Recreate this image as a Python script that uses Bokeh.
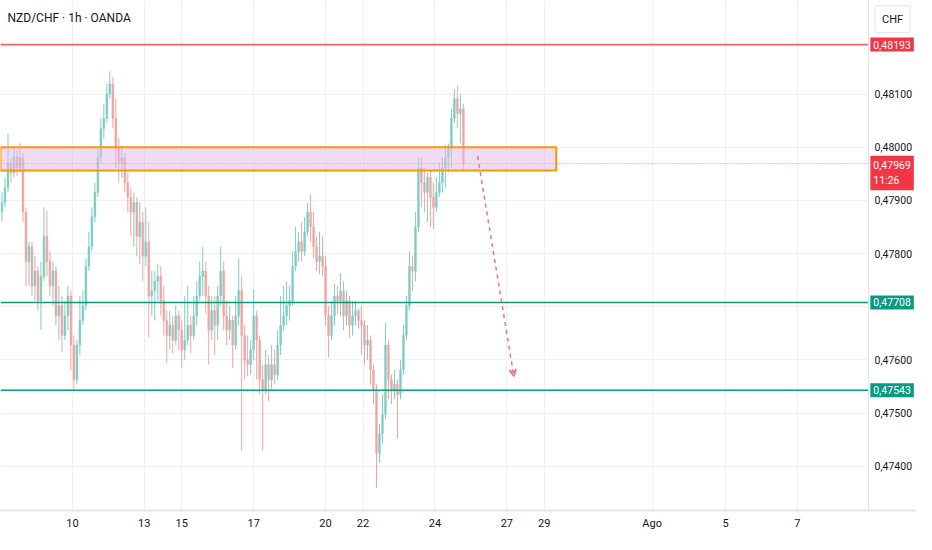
from bokeh.plotting import figure
from bokeh.models import (Range1d, FixedTicker, CustomJSTickFormatter, Label,
                          BoxAnnotation, ColumnDataSource, Arrow, VeeHead)
from bokeh.embed import file_html
from bokeh.resources import INLINE

# ---- data (2h candles) ----
first_open = 0.47878
closes = [0.47896, 0.47924, 0.47970, 0.47952, 0.47983, 0.47961, 0.47980, 0.47878, 0.47785, 0.47813,
          0.47739, 0.47767, 0.47711, 0.47757, 0.47832, 0.47785, 0.47739, 0.47767, 0.47683, 0.47702,
          0.47646, 0.47683, 0.47720, 0.47628, 0.47563, 0.47628, 0.47674, 0.47702, 0.47776, 0.47813,
          0.47869, 0.47915, 0.47980, 0.48035, 0.48054, 0.48100, 0.48119, 0.48054, 0.47998, 0.47970,
          0.47980, 0.47933, 0.47906, 0.47878, 0.47896, 0.47832, 0.47859, 0.47795, 0.47822, 0.47720,
          0.47730, 0.47748, 0.47757, 0.47711, 0.47674, 0.47646, 0.47665, 0.47637, 0.47683, 0.47656,
          0.47619, 0.47637, 0.47665, 0.47646, 0.47683, 0.47720, 0.47757, 0.47767, 0.47720, 0.47656,
          0.47693, 0.47665, 0.47720, 0.47767, 0.47683, 0.47656, 0.47674, 0.47628, 0.47683, 0.47730,
          0.47646, 0.47600, 0.47591, 0.47619, 0.47683, 0.47637, 0.47563, 0.47544, 0.47591, 0.47563,
          0.47591, 0.47572, 0.47628, 0.47665, 0.47683, 0.47702, 0.47711, 0.47776, 0.47804, 0.47822,
          0.47804, 0.47841, 0.47878, 0.47850, 0.47813, 0.47785, 0.47795, 0.47776, 0.47683, 0.47646,
          0.47683, 0.47720, 0.47711, 0.47730, 0.47683, 0.47711, 0.47665, 0.47683, 0.47693, 0.47674,
          0.47665, 0.47628, 0.47637, 0.47581, 0.47544, 0.47424, 0.47461, 0.47498, 0.47628, 0.47563,
          0.47544, 0.47554, 0.47535, 0.47581, 0.47646, 0.47702, 0.47776, 0.47767, 0.47850, 0.47961,
          0.47933, 0.47915, 0.47943, 0.47906, 0.47887, 0.47915, 0.47933, 0.47961, 0.47980, 0.47998,
          0.48054, 0.48091, 0.48063, 0.48072, 0.47969]
highs = [0.47915, 0.47943, 0.48026, 0.47980, 0.47998, 0.47995, 0.48007, 0.47989, 0.47887, 0.47822,
         0.47822, 0.47795, 0.47776, 0.47785, 0.47887, 0.47881, 0.47804, 0.47785, 0.47776, 0.47739,
         0.47720, 0.47711, 0.47739, 0.47730, 0.47646, 0.47637, 0.47720, 0.47730, 0.47791, 0.47841,
         0.47887, 0.47933, 0.47998, 0.48054, 0.48082, 0.48119, 0.48143, 0.48132, 0.48091, 0.48017,
         0.47998, 0.47989, 0.47952, 0.47924, 0.47915, 0.47906, 0.47896, 0.47878, 0.47887, 0.47859,
         0.47767, 0.47767, 0.47780, 0.47776, 0.47739, 0.47693, 0.47693, 0.47683, 0.47702, 0.47693,
         0.47674, 0.47720, 0.47739, 0.47683, 0.47720, 0.47748, 0.47785, 0.47813, 0.47785, 0.47739,
         0.47720, 0.47720, 0.47739, 0.47813, 0.47785, 0.47711, 0.47702, 0.47683, 0.47720, 0.47791,
         0.47757, 0.47665, 0.47646, 0.47637, 0.47733, 0.47693, 0.47646, 0.47591, 0.47619, 0.47609,
         0.47628, 0.47619, 0.47656, 0.47720, 0.47739, 0.47748, 0.47739, 0.47804, 0.47850, 0.47841,
         0.47859, 0.47869, 0.47896, 0.47911, 0.47878, 0.47832, 0.47841, 0.47832, 0.47795, 0.47702,
         0.47711, 0.47743, 0.47739, 0.47763, 0.47748, 0.47730, 0.47720, 0.47711, 0.47711, 0.47696,
         0.47702, 0.47674, 0.47665, 0.47646, 0.47591, 0.47554, 0.47480, 0.47535, 0.47669, 0.47637,
         0.47572, 0.47581, 0.47563, 0.47600, 0.47665, 0.47720, 0.47804, 0.47795, 0.47878, 0.47980,
         0.47980, 0.47961, 0.47952, 0.47957, 0.47933, 0.47943, 0.47970, 0.47980, 0.48004, 0.48007,
         0.48072, 0.48109, 0.48115, 0.48100, 0.48082]
lows = [0.47859, 0.47887, 0.47915, 0.47933, 0.47943, 0.47946, 0.47952, 0.47859, 0.47739, 0.47739,
        0.47720, 0.47711, 0.47693, 0.47656, 0.47748, 0.47757, 0.47720, 0.47702, 0.47665, 0.47637,
        0.47615, 0.47637, 0.47656, 0.47581, 0.47539, 0.47554, 0.47609, 0.47665, 0.47693, 0.47767,
        0.47804, 0.47859, 0.47906, 0.47970, 0.48017, 0.48045, 0.48091, 0.48035, 0.47961, 0.47933,
        0.47943, 0.47915, 0.47878, 0.47832, 0.47813, 0.47795, 0.47780, 0.47748, 0.47776, 0.47643,
        0.47683, 0.47674, 0.47711, 0.47683, 0.47646, 0.47594, 0.47619, 0.47613, 0.47628, 0.47619,
        0.47585, 0.47600, 0.47628, 0.47613, 0.47637, 0.47665, 0.47711, 0.47720, 0.47687, 0.47591,
        0.47637, 0.47609, 0.47637, 0.47702, 0.47656, 0.47628, 0.47637, 0.47585, 0.47619, 0.47665,
        0.47430, 0.47563, 0.47569, 0.47572, 0.47600, 0.47563, 0.47535, 0.47430, 0.47535, 0.47522,
        0.47544, 0.47554, 0.47563, 0.47609, 0.47656, 0.47665, 0.47674, 0.47702, 0.47767, 0.47785,
        0.47785, 0.47795, 0.47832, 0.47822, 0.47791, 0.47767, 0.47761, 0.47757, 0.47665, 0.47604,
        0.47637, 0.47665, 0.47687, 0.47683, 0.47656, 0.47665, 0.47641, 0.47646, 0.47665, 0.47659,
        0.47609, 0.47591, 0.47600, 0.47554, 0.47517, 0.47359, 0.47406, 0.47443, 0.47489, 0.47526,
        0.47517, 0.47526, 0.47452, 0.47526, 0.47572, 0.47637, 0.47693, 0.47730, 0.47748, 0.47841,
        0.47887, 0.47878, 0.47859, 0.47850, 0.47846, 0.47878, 0.47906, 0.47915, 0.47924, 0.47952,
        0.47961, 0.48045, 0.48035, 0.48007, 0.47956]

bar_hours = 2                      # each candle covers 2 trading hours
day_ticks = [48, 96, 121, 169, 217, 242, 290, 338, 363, 435, 484, 532, 580]
day_labels = ["10", "13", "15", "17", "20", "22", "24", "27", "29", "Ago", "5", "7", "10"]
price_ticks = [0.474, 0.475, 0.476, 0.477, 0.478, 0.479, 0.480, 0.481]
price_labels_hidden = [0.477]      # label hidden behind the 0,47708 tag in the reference

resistance = 0.48193
support_levels = [0.47708, 0.47543]
last_price = 0.47969
countdown = "11:26"
zone_top, zone_bottom, zone_end = 0.48000, 0.47956, 371
arrow_x = [318.5, 342.7]
arrow_y = [0.47983, 0.47569]
title = "NZD/CHF · 1h · OANDA"
currency = "CHF"

# ---- derived candle table ----
opens = [first_open] + closes[:-1]
xs = [bar_hours * k + bar_hours / 2 for k in range(len(closes))]
up = dict(x=[], top=[], bottom=[], hi=[], lo=[])
dn = dict(x=[], top=[], bottom=[], hi=[], lo=[])
for x, o, h, l, c in zip(xs, opens, highs, lows, closes):
    d = up if c >= o else dn
    d["x"].append(x); d["top"].append(max(o, c)); d["bottom"].append(min(o, c))
    d["hi"].append(h); d["lo"].append(l)

FONT = "Roboto, sans-serif"
UP, DN = "#7fcdc1", "#f2a3a3"
X_END = 579.5          # last hour slot of the chart area (price scale starts here)
X_FULL = 611.5         # right edge of the price-scale strip
Y0, Y1 = 0.473167, 0.482759

p = figure(width=916, height=534, output_backend="svg", toolbar_location=None,
           x_range=Range1d(0, X_FULL), y_range=Range1d(Y0, Y1),
           y_axis_location="right", min_border_left=0, min_border_top=0,
           min_border_right=0, min_border_bottom=24)
p.outline_line_color = None
p.background_fill_color = "white"
p.border_fill_color = "white"

# axes / grids
vis_ticks = [t for t in day_ticks if t < X_END]
p.xaxis.ticker = FixedTicker(ticks=vis_ticks)
p.xaxis.major_label_overrides = {t: l for t, l in zip(day_ticks, day_labels)}
p.yaxis.ticker = FixedTicker(ticks=[t for t in price_ticks if t not in price_labels_hidden])
p.yaxis.formatter = CustomJSTickFormatter(code="return tick.toFixed(5).replace('.', ',');")
p.yaxis.fixed_location = X_END
p.xgrid.ticker = FixedTicker(ticks=vis_ticks)
p.ygrid.ticker = FixedTicker(ticks=price_ticks)
for g in (p.xgrid, p.ygrid):
    g.grid_line_color = "#eef0f4"
    g.grid_line_width = 1
for ax in (p.xaxis, p.yaxis):
    ax.major_tick_line_color = None
    ax.minor_tick_line_color = None
    ax.major_tick_out = 0
    ax.major_tick_in = 0
    ax.major_label_text_font = FONT
    ax.major_label_text_color = "#131722"
p.xaxis.major_label_text_font_size = "11px"
p.yaxis.major_label_text_font_size = "10.5px"
p.xaxis.axis_line_color = "#e0e3eb"
p.xaxis.axis_line_width = 2
p.xaxis.major_label_standoff = 6
p.yaxis.axis_line_color = "#e3e5eb"
p.yaxis.major_label_standoff = 6

# candles
for d, col in ((up, UP), (dn, DN)):
    src = ColumnDataSource(d)
    p.segment(x0="x", x1="x", y0="lo", y1="hi", source=src, line_color=col, line_width=1)
    p.vbar(x="x", width=1.2, top="top", bottom="bottom", source=src,
           fill_color=col, line_color=col, line_width=0.5)

# horizontal levels across the chart area
p.segment(x0=[0], x1=[X_END], y0=[resistance], y1=[resistance], line_color="#f0616d", line_width=1.8)
p.segment(x0=[0] * len(support_levels), x1=[X_END] * len(support_levels),
          y0=support_levels, y1=support_levels, line_color="#089981", line_width=1.5)
p.segment(x0=[0], x1=[X_END], y0=[last_price], y1=[last_price], line_color="#f23645",
          line_alpha=0.7, line_width=1, line_dash="1 2")

# price-scale strip background (covers grid; the axis is drawn above it)
p.quad(left=[X_END], right=[X_FULL], bottom=[Y0], top=[Y1], fill_color="white", line_color=None)

# zone
p.add_layout(BoxAnnotation(left=0, right=zone_end, bottom=zone_bottom, top=zone_top,
                           fill_color="#e1bee7", fill_alpha=0.55,
                           line_color="#ff9800", line_alpha=1.0, line_width=2))

# projection arrow
asrc = ColumnDataSource(dict(x0=[arrow_x[0]], y0=[arrow_y[0]], x1=[arrow_x[1]], y1=[arrow_y[1]]))
p.add_layout(Arrow(x_start="x0", y_start="y0", x_end="x1", y_end="y1", source=asrc,
                   line_color="#ec6f94", line_width=1.5, line_dash="4 4",
                   end=VeeHead(size=7, line_color="#ec6f94", line_width=1.5, fill_alpha=0)))

# price tags on the scale
def tag(y, text, bg, baseline="middle", yoff=0):
    p.add_layout(Label(x=X_END + 1.2, y=y, text=text, text_color="white", text_font=FONT,
                       text_font_size="10.5px", text_baseline=baseline, text_align="left",
                       background_fill_color=bg, padding=3, y_offset=yoff))

tag(resistance, "0,48193", "#f23645")
for lv in support_levels:
    tag(lv, ("%.5f" % lv).replace(".", ","), "#089981")
tag(last_price, "0,47969\n" + countdown, "#f23645", baseline="top", yoff=8)

p.add_layout(Label(x=(X_END + X_FULL) / 2, y=0.482407, text=currency,
                   text_font=FONT, text_font_size="11px", text_color="#131722",
                   text_baseline="middle", text_align="center",
                   background_fill_color="white", border_line_color="#e0e3eb",
                   padding=7))

# title
p.add_layout(Label(x=7, y=500, x_units="screen", y_units="screen", text=title,
                   text_font=FONT, text_font_size="12px", text_color="#131722",
                   text_baseline="top"))

open("out.html", "w").write(file_html(p, INLINE))
